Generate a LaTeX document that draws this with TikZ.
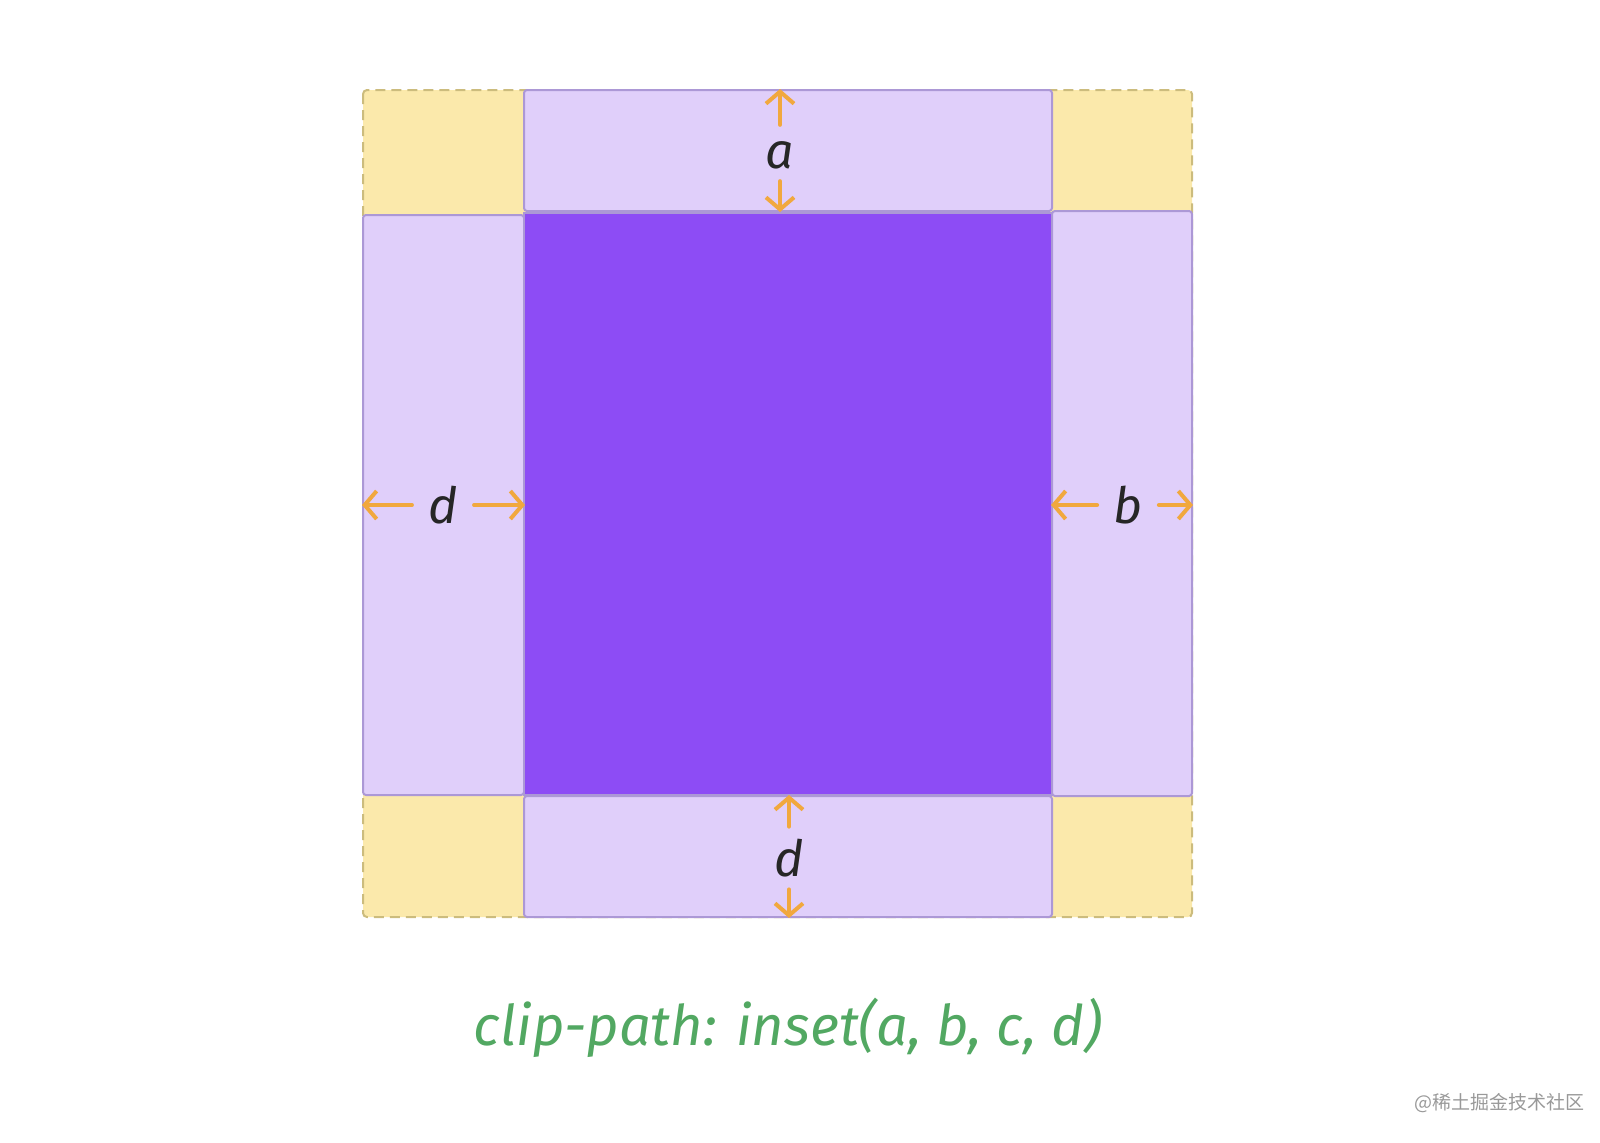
\documentclass[tikz,border=0pt]{standalone}
\usepackage{fontspec}
\setmainfont{Fira Sans}
\newfontfamily\cjkfont{Noto Sans CJK SC}
\usepackage{tikz}
\usetikzlibrary{arrows.meta,positioning}
\definecolor{cornerfill}{RGB}{251,233,171}
\definecolor{cornerline}{RGB}{204,188,125}
\definecolor{stripfill}{RGB}{224,207,250}
\definecolor{stripline}{RGB}{172,152,214}
\definecolor{corefill}{RGB}{141,76,245}
\definecolor{measurecol}{RGB}{241,168,62}
\definecolor{captioncol}{RGB}{82,168,98}
\tikzset{
    strip/.style={draw=stripline, fill=stripfill, line width=1pt, rounded corners=1.5pt, inner sep=0pt},
    core/.style={draw=stripline, fill=corefill, line width=1pt, inner sep=0pt},
    corners/.style={draw=cornerline, fill=cornerfill, line width=1pt, dash pattern=on 5pt off 3pt, rounded corners=2pt},
    measure/.style={draw=measurecol, line width=2pt, line cap=round, -{Straight Barb[length=6pt,width=14pt,line width=2pt]}},
    lbl/.style={font=\itshape\fontsize{25}{25}\selectfont, text=black!85, inner sep=0pt}
}
\begin{document}
\begin{tikzpicture}[x=0.5pt, y=-0.5pt]
    \useasboundingbox (0,0) rectangle (1600,1142);

    % the outer box with the corners
    \draw[corners] (363,90) rectangle (1192,917);

    % the four strips and the part that is kept
    \node[strip, minimum width=264pt, minimum height=60.5pt] (top) at (788,150.5) {};
    \node[strip, minimum width=80.5pt, minimum height=290pt] (left) at (443.5,505) {};
    \node[strip, minimum width=70pt, minimum height=292.5pt] (right) at (1122,503.5) {};
    \node[strip, minimum width=264pt, minimum height=60.5pt] (bottom) at (788,856.5) {};
    \node[core, minimum width=264pt, minimum height=291pt] (keep) at (788,504) {};

    % labels
    \node[lbl] (la) at (780,155) {a};
    \node[lbl] (lb) at (1128,505) {b};
    \node[lbl] (ld) at (443,505) {d};
    \node[lbl] (lc) at (789,858) {d};

    % arrows
    \draw[measure, shorten <=8pt] (la.north) -- (la.north |- top.north);
    \draw[measure, shorten <=6pt] (la.south) -- (la.south |- top.south);
    \draw[measure, shorten <=8pt] (ld.west) -- (ld.west -| left.west);
    \draw[measure, shorten <=8pt] (ld.east) -- (ld.east -| left.east);
    \draw[measure, shorten <=8pt] (lb.west) -- (lb.west -| right.west);
    \draw[measure, shorten <=8pt] (lb.east) -- (lb.east -| right.east);
    \draw[measure, shorten <=6pt] (lc.north) -- (lc.north |- bottom.north);
    \draw[measure, shorten <=6pt] (lc.south) -- (lc.south |- bottom.south);

    % caption and mark
    \node[text=captioncol, font=\itshape\fontsize{28}{28}\selectfont] (caption) at (788,1028) {clip-path: inset(a, b, c, d)};
    \node[text=black!40, font=\cjkfont\fontsize{9.5}{10}\selectfont, anchor=east] (mark) at (1592,1103) {@稀土掘金技术社区};
\end{tikzpicture}
\end{document}
